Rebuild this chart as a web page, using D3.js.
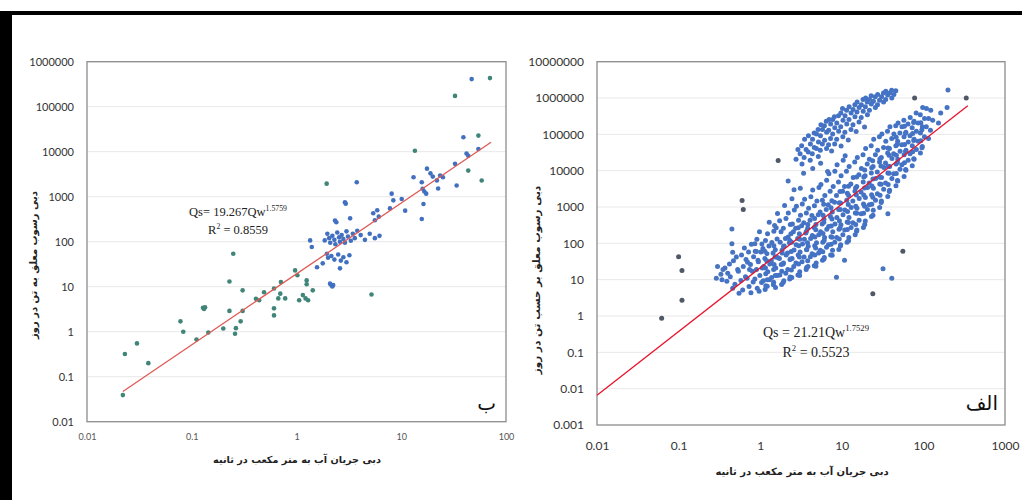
<!DOCTYPE html>
<html>
<head>
<meta charset="utf-8">
<script src="https://cdn.jsdelivr.net/npm/d3@7"></script>
<style>
  body { margin: 0; background: #fff; }
  svg { display: block; }
</style>
</head>
<body>
<div id="chart"></div>
<script>
//Tick values and their labels
var leftXTicks = [0.01, 0.1, 1, 10, 100];
var leftXLabels = ["0.01", "0.1", "1", "10", "100"];
var leftYTicks = [0.01, 0.1, 1, 10, 100, 1000, 10000, 100000, 1000000];
var leftYLabels = ["0.01", "0.1", "1", "10", "100", "1000", "10000", "100000", "1000000"];
var rightXTicks = [0.01, 0.1, 1, 10, 100, 1000];
var rightXLabels = ["0.01", "0.1", "1", "10", "100", "1000"];
var rightYTicks = [0.001, 0.01, 0.1, 1, 10, 100, 1000, 10000, 100000, 1000000, 10000000];
var rightYLabels = ["0.001", "0.01", "0.1", "1", "10", "100", "1000", "10000", "100000", "1000000", "10000000"];

//Axis titles (persian)
var xTitle = "دبی جریان آب به متر مکعب در ثانیه";
var leftYTitle = "دبی رسوب معلق به تن در روز";
var rightYTitle = "دبی رسوب معلق بر حسب تن در روز";

//Trendlines Qs = a * Qw^b  [a, b, first Qw, last Qw]
var leftFit = [19.267, 1.5759, 0.022, 72];
var rightFit = [21.21, 1.7529, 0.01, 350];

//Panel "ب" : [Qw, Qs]
var leftTeal = [[0.022,0.039],[0.023,0.32],[0.030,0.55],[0.0385,0.20],[0.078,1.7],[0.083,1.0],[0.111,0.67],
  [0.128,3.4],[0.131,3.2],[0.134,3.5],[0.144,0.96],[0.20,1.18],[0.229,13],[0.229,2.9],[0.249,54],[0.259,0.9],
  [0.264,1.2],[0.293,1.7],[0.306,2.9],[0.306,8.3],[0.41,5.4],[0.44,5.0],[0.49,7.5],[0.61,9.1],[0.61,3.3],
  [0.61,2.3],[0.67,5.5],[0.71,12.7],[0.70,7],[0.78,5.5],[0.97,23],[1.02,18],[1.06,5.0],[1.15,6.5],[1.22,5.5],
  [1.29,5.0],[1.25,13.8],[1.25,11.3],[1.43,8.3],[5.2,6.7],[1.94,1950],[13.5,10500],[32.6,174000],[70.3,432000],
  [58.6,2290],[43.6,3800],[54.5,22800]];
var leftBlue = [[1.35,107],[1.40,76],[1.57,27],[1.78,33],[2.09,11.7],[2.16,10.7],[2.24,10.9],[2.2,10.1],
  [1.95,54],[2.0,44],[2.15,48],[2.3,40],[2.5,52],[2.65,38],[2.8,45],[3.0,35],[3.2,50],[2.6,25.6],
  [1.86,107],[1.97,150],[2.05,120],[2.1,95],[2.2,135],[2.3,110],[2.35,88],[2.45,160],[2.55,125],[2.6,100],
  [2.7,140],[2.8,115],[2.9,95],[3.0,170],[3.1,130],[3.3,105],[3.45,150],[3.6,120],[3.8,175],[4.1,140],
  [4.5,110],[5.0,150],[5.6,120],[6.2,135],[2.33,296],[2.4,270],[3.25,330],[2.9,755],[2.95,700],[5.4,430],
  [5.6,300],[5.9,500],[6.1,360],[3.76,2090],[8.1,1170],[8.4,830],[7.8,550],[10.1,890],[10.9,490],[13.1,2700],
  [15.7,2090],[16,1500],[16.6,1300],[17.3,1170],[16.3,690],[15.7,320],[17.6,4200],[19,3300],[20,2800],
  [21.9,2300],[23.5,2950],[25,2700],[22.5,1520],[33.8,1780],[32.6,5370],[39.2,20900],[42,9100],[43.6,8100],
  [54.5,11500],[47,411000]];

//Panel "الف" : [Qw, Qs]
var rightMain = [[0.34,10],[0.37,21],[0.39,9],[0.42,27],[0.40,15],[0.46,5.8],[0.43,12],[0.47,33],
  [0.49,7.5],[0.53,19],[0.51,42],[0.55,4.2],[0.58,9.5],[0.54,17],[0.59,48],
  [0.61,5.2],[0.66,12],[0.62,23],[0.67,36],[0.64,75],[0.73,6.5],[0.69,11],[0.74,19],[0.7,30],[0.72,58],
  [0.77,4.4],[0.82,8.7],[0.8,17],[0.76,26],[0.83,43],[0.78,95],[0.92,5.8],[0.86,10.5],[0.9,19],[0.94,34],[0.87,61],[0.91,130],
  [0.97,4.8],[1.04,8.3],[0.99,13],[1.06,21],[0.95,31],[1.02,58],[1.05,96],[0.98,210],
  [1.15,5.4],[1.09,9.4],[1.17,14.5],[1.1,23],[1.14,38],[1.08,72],[1.16,120],
  [1.22,6.6],[1.3,10],[1.24,16.5],[1.31,27],[1.21,52],[1.28,85],[1.23,185],[1.29,380],
  [1.45,7.3],[1.38,11.5],[1.46,19],[1.37,33],[1.44,54],[1.39,105],[1.47,215],
  [1.54,6.1],[1.62,13],[1.55,21],[1.64,41],[1.53,67],[1.61,132],[1.57,270],[1.63,660],
  [1.83,7.4],[1.74,13.5],[1.81,26],[1.72,38],[1.85,65],[1.76,108],[1.8,210],[1.73,420],
  [1.95,9.4],[2.06,15],[1.93,29],[2.08,48],[1.97,84],[2.04,135],[1.92,260],[2.07,480],[1.99,1100],
  [2.3,10.5],[2.18,19],[2.32,36],[2.16,54],[2.28,104],[2.2,150],[2.34,330],[2.21,680],
  [2.44,11.5],[2.58,23],[2.46,38],[2.6,66],[2.43,108],[2.55,210],[2.48,340],[2.62,830],
  [2.9,13.5],[2.74,29],[2.92,48],[2.76,92],[2.88,135],[2.72,260],[2.95,430],[2.78,1050],
  [3.05,16.5],[3.26,31],[3.08,58],[3.3,96],[3.02,185],[3.22,305],[3.12,590],[3.28,1220],
  [3.66,19],[3.45,42],[3.7,67],[3.48,130],[3.62,192],[3.42,370],[3.68,680],[3.5,1640],
  [3.85,23],[4.12,43],[3.88,83],[4.15,136],[3.82,260],[4.08,430],[3.92,920],[4.18,1920],
  [4.6,24],[4.32,52],[4.65,86],[4.35,165],[4.58,272],[4.3,580],[4.62,1080],[4.4,2920],
  [4.85,29],[5.2,54],[4.9,104],[5.22,172],[4.82,330],[5.15,610],[4.95,1460],[5.25,3420],
  [5.8,34],[5.45,65],[5.85,108],[5.5,207],[5.75,343],[5.42,725],[5.78,1530],[5.55,4150],
  [6.1,41],[6.5,78],[6.15,146],[6.55,243],[6.05,462],[6.45,860],[6.2,2070],[6.52,5430],
  [7.3,48],[6.85,92],[7.35,153],[6.9,292],[7.25,545],[6.82,1160],[7.2,2730],[6.95,8200],
  [7.7,65],[8.2,108],[7.75,207],[8.25,343],[7.65,725],[8.15,1360],[7.85,3670],[8.22,9700],
  [9.2,68],[8.65,146],[9.25,243],[8.7,515],[9.15,860],[8.6,2070],[9.1,4850],[8.75,14600],
  [9.7,92],[10.3,172],[9.75,327],[10.35,610],[9.65,1300],[10.25,2730],[9.8,7300],[10.4,19400],
  [11.6,108],[10.85,232],[11.65,387],[10.9,826],[11.5,1530],[10.8,3670],[11.4,9700],[11.0,25900],
  [12.2,146],[13.0,273],[12.25,515],[13.05,970],[12.15,2070],[12.9,4330],[12.3,13000],
  [14.6,172],[13.7,367],[14.65,680],[13.65,1460],[14.5,2730],[13.8,6500],[14.4,17300],
  [15.3,232],[16.3,433],[15.35,920],[16.35,1720],[15.25,3670],[16.2,7700],[15.5,23100],
  [18.4,273],[17.25,650],[18.45,1220],[17.2,2590],[18.3,4860],[17.4,11500],[18.2,27400],
  [19.4,413],[20.6,860],[19.45,1840],[20.7,3440],[19.3,7300],[20.5,15300],[19.6,41000],
  [23.1,545],[21.7,1160],[23.2,2170],[21.65,4600],[23.0,8640],[21.8,20600],[22.9,48600],
  [24.3,820],[25.9,1530],[24.4,3260],[26.0,6120],[24.2,13000],[25.8,27400],[24.6,73000],
  [29.1,970],[27.3,2310],[29.2,4330],[27.2,9190],[29.0,17300],[27.5,36600],[28.9,86400],
  [30.6,1460],[32.6,3060],[30.7,6500],[32.8,12200],[30.5,23100],[32.5,43300],[31.0,103000],
  [36.6,1940],[34.4,4610],[36.7,8640],[34.3,16300],[36.5,30600],[34.6,65000],[36.3,122000],
  [38.5,2910],[41.1,6120],[38.6,13000],[41.2,21700],[38.4,41000],[40.9,77000],[38.9,163000],
  [46.1,3860],[43.3,8190],[46.2,15300],[43.2,29100],[46.0,48600],[43.5,103000],[45.8,172000],
  [48.5,5170],[51.7,10900],[48.6,20600],[51.8,34400],[48.4,65000],[51.5,109000],[49.0,206000],
  [58.0,6870],[54.4,14500],[58.1,27400],[54.3,51600],[57.9,86400],[54.6,163000],[57.6,244000],
  [61.1,10300],[65.1,19400],[61.2,36600],[65.2,61200],[61.0,115000],[64.8,194000],
  [73.0,13700],[68.6,29100],[73.1,48600],[68.5,91800],[72.8,153000],[68.9,290000],
  [76.9,20600],[81.9,38600],[77.0,72900],[82.0,122000],[76.8,231000],[81.5,386000],
  [91.9,30600],[86.3,65000],[92.0,109000],[86.2,206000],[91.6,344000],
  [96.9,46100],[103,86400],[97,163000],[103.2,274000],[98,546000],
  [115.5,77000],[108.5,163000],[115.7,274000],[109,515000],[122,130000],[130,244000],[123,460000],
  [153,206000],[163,386000],[195,546000]];
var rightCore = [[1.17,6.8],[1.22,10],[1.16,21],[1.2,33],
  [1.46,8.5],[1.53,13],[1.48,26],[1.52,42],[1.47,86],
  [1.91,8.4],[1.84,17],[1.9,27],[1.86,54],[1.93,82],
  [2.33,11.8],[2.41,18.5],[2.35,37],[2.4,60],[2.31,120],[2.38,185],
  [3.04,13],[2.95,27],[3.02,42],[2.97,86],[3.05,130],[2.93,270],
  [3.7,21.5],[3.82,33],[3.72,68],[3.8,104],[3.69,215],[3.83,330],
  [4.81,23.5],[4.66,48],[4.78,75],[4.68,150],[4.8,235],[4.64,480],
  [6.05,37],[5.85,59],[6.08,120],[5.88,188],[6.02,380],[5.9,590],[6.0,1200],
  [7.62,47],[7.4,95],[7.6,148],[7.42,300],[7.58,470],[7.38,950],[7.55,1480],
  [9.6,84],[9.3,132],[9.55,268],[9.35,420],[9.58,850],[9.3,1320],[9.5,2680],
  [12.1,118],[11.7,240],[12.05,375],[11.75,750],[12.0,1180],[11.7,2380],[12.1,3750],
  [15.2,214],[14.8,330],[15.25,675],[14.85,1050],[15.1,2130],[14.75,3320],[15.2,6750],
  [19.1,330],[18.5,675],[19.05,1050],[18.55,2130],[19.0,3320],[18.6,6750],[19.1,10500],
  [24.1,590],[23.3,1200],[24.0,1870],[23.4,3780],[24.05,5900],[23.25,12000],[23.9,18700],
  [30.4,1340],[29.4,2100],[30.3,4250],[29.5,6630],[30.2,13400],[29.3,21000],
  [38.2,2680],[37.0,4180],[38.1,8480],[37.1,13200],[38.0,26800],[36.9,41800],
  [48.1,5350],[46.5,8350],[48.0,16900],[46.6,26400],[47.9,53500],[46.4,83500],
  [60.6,10700],[58.6,16600],[60.5,33800],[58.7,52600],[60.4,107000],[58.5,166000],
  [76.2,21300],[73.8,33200],[76.1,67400],[73.9,105000],[76.0,213000],
  [96,42500],[92.8,66300],[95.8,134000],[93,210000]];
var rightUpper = [[2.75,20500],[2.9,38600],[3.25,15300],[3.08,29100],[3.22,48600],[3.45,23100],[3.65,38600],[3.5,72900],
  [4.1,19400],[3.88,32600],[4.12,54500],[3.9,91800],[4.35,29100],[4.6,43300],[4.38,72900],[4.58,109000],
  [5.15,24400],[4.88,41000],[5.18,61200],[4.9,103000],[5.12,137000],[5.45,36600],[5.78,54500],[5.48,91800],[5.8,137000],[5.55,183000],
  [6.5,41000],[6.15,68700],[6.52,115000],[6.12,172000],[6.45,231000],[6.88,51600],[7.28,77000],[6.9,130000],[7.3,194000],[7.0,258000],
  [8.18,54500],[7.72,103000],[8.2,153000],[7.75,258000],[8.1,307000],[8.65,72900],[9.15,122000],[8.68,206000],[9.1,325000],
  [10.3,86400],[9.7,163000],[10.35,244000],[9.75,386000],[10.2,515000],[10.9,115000],[11.5,194000],[10.95,325000],[11.45,460000],
  [12.95,137000],[12.25,258000],[13.0,386000],[12.3,579000],[13.7,183000],[14.5,307000],[13.75,487000],[14.45,650000],
  [16.25,218000],[15.35,410000],[16.3,546000],[15.4,772000],[17.3,290000],[18.3,434000],[17.35,650000],[18.2,918000],
  [20.6,344000],[19.45,579000],[20.5,772000],[19.6,1000000],[21.8,460000],[23.0,688000],[21.85,918000],[22.9,1150000],
  [25.8,546000],[24.4,818000],[25.7,1090000],[27.4,650000],[29.0,866000],[27.5,1260000],[32.5,772000],[30.7,1090000],[32.4,1380000],
  [34.5,918000],[36.5,1220000],[34.6,1540000],[41.0,1000000],[38.7,1380000],[40.8,1630000],[43.5,1260000],[45.9,1580000]];
var rightSparse = [[0.29,11],[0.3,23],[0.33,14],[0.35,19],[0.45,250],[0.45,97],[0.46,57],[0.86,97],[0.9,60],[1.14,61],
  [1.5,310],[8.6,11.7],[10.8,34],[32,20],[41,11],[36.7,650],[2.2,5200],[2.6,3000],[3.4,8500],[4.4,11500],[5.5,16000],
  [6.7,9500],[7.5,35000],[9.8,48000],[12,70000],[15,120000],[19,160000],[200,1660000],[2.45,1700],[3.1,3300]];
var rightDark = [[0.062,0.87],[0.1,43],[0.11,18],[0.11,2.7],[0.6,1500],[0.62,850],[1.66,19000],[24,4.1],[56,61],
  [78,1000000],[335,1000000]];

//Setting width and height
var width = 1022, height = 500;

var svg = d3.select("#chart").append("svg").attr("width", width).attr("height", height);

//black frame of the figure
svg.append("rect").attr("x", 0).attr("y", 11).attr("width", width).attr("height", 4).attr("fill", "#000");
svg.append("rect").attr("x", 0).attr("y", 11).attr("width", 12).attr("height", height - 11).attr("fill", "#000");

//draws one panel
function drawPanel(p) {
  var g = svg.append("g");

  //gridlines
  g.selectAll(".grid").data(p.yTicks.slice(1)).enter().append("line")
    .attr("x1", p.x.range()[0]).attr("x2", p.x.range()[1])
    .attr("y1", function(d) { return p.y(d); }).attr("y2", function(d) { return p.y(d); })
    .attr("stroke", "#e8e8e8").attr("stroke-width", 1);

  //axes
  var gy = g.append("g").attr("transform", "translate(" + p.x.range()[0] + ",0)")
    .call(d3.axisLeft(p.y).tickValues(p.yTicks).tickFormat(function(d, i) { return p.yLabels[i]; })
      .tickSize(0).tickPadding(13));
  gy.select(".domain").remove();
  gy.selectAll("text").attr("font-family", "Lato").attr("font-size", p.yFont).attr("fill", "#333");

  var gx = g.append("g").attr("transform", "translate(0," + p.y.range()[0] + ")")
    .call(d3.axisBottom(p.x).tickValues(p.xTicks).tickFormat(function(d, i) { return p.xLabels[i]; })
      .tickSize(0).tickPadding(p.xPad));
  gx.select(".domain").remove();
  gx.selectAll("text").attr("font-family", "Lato").attr("font-size", p.xFont).attr("fill", p.xColor);

  //plot frame
  g.append("rect")
    .attr("x", p.x.range()[0]).attr("y", p.y.range()[1])
    .attr("width", p.x.range()[1] - p.x.range()[0]).attr("height", p.y.range()[0] - p.y.range()[1])
    .attr("fill", "none").attr("stroke", "#8c8c8c").attr("stroke-width", 1.3);

  //points
  p.series.forEach(function(s) {
    g.append("g").selectAll("circle").data(s.data).enter().append("circle")
      .attr("cx", function(d) { return p.x(d[0]); })
      .attr("cy", function(d) { return p.y(d[1]); })
      .attr("r", p.r)
      .attr("fill", s.color);
  });

  //trendline
  var f = p.fit;
  g.append("line")
    .attr("x1", p.x(f[2])).attr("y1", p.y(f[0] * Math.pow(f[2], f[1])))
    .attr("x2", p.x(f[3])).attr("y2", p.y(f[0] * Math.pow(f[3], f[1])))
    .attr("stroke", p.fitColor).attr("stroke-width", 1.3);

  //equation
  var eq = g.append("text").attr("x", p.eqX).attr("y", p.eqY).attr("text-anchor", "middle")
    .attr("font-family", "Liberation Serif").attr("font-size", p.eqFont).attr("fill", "#222");
  eq.append("tspan").text(p.eqText);
  eq.append("tspan").attr("dy", -p.eqFont * 0.4).attr("font-size", p.eqFont * 0.62).text(f[1].toString());
  var r2 = g.append("text").attr("x", p.eqX).attr("y", p.eqY + p.eqGap).attr("text-anchor", "middle")
    .attr("font-family", "Liberation Serif").attr("font-size", p.eqFont).attr("fill", "#222");
  r2.append("tspan").text("R");
  r2.append("tspan").attr("dy", -p.eqFont * 0.4).attr("font-size", p.eqFont * 0.62).text("2");
  r2.append("tspan").attr("dy", p.eqFont * 0.4).text(" = " + p.r2);

  //panel letter
  g.append("text").attr("x", p.letterX).attr("y", p.letterY).attr("text-anchor", "end")
    .attr("font-family", "DejaVu Sans").attr("font-size", p.letterFont).attr("fill", "#111")
    .text(p.letter);

  //axis titles
  g.append("text").attr("x", p.xTitleX).attr("y", p.xTitleY).attr("text-anchor", "middle")
    .attr("font-family", "DejaVu Sans").attr("font-weight", "bold").attr("font-size", p.xTitleFont)
    .attr("fill", "#222").text(xTitle);
  g.append("text").attr("transform", "translate(" + p.yTitleX + "," + p.yTitleY + ") rotate(-90)")
    .attr("text-anchor", "middle")
    .attr("font-family", "DejaVu Sans").attr("font-weight", "bold").attr("font-size", p.yTitleFont)
    .attr("fill", "#222").text(p.yTitle);
}

//left panel (ب)
drawPanel({
  x: d3.scaleLog().domain([0.01, 100]).range([87, 506]),
  y: d3.scaleLog().domain([0.01, 1000000]).range([421.7, 61.7]),
  xTicks: leftXTicks, xLabels: leftXLabels, yTicks: leftYTicks, yLabels: leftYLabels,
  yFont: 11, xFont: 9, xPad: 12, xColor: "#555",
  series: [{data: leftTeal, color: "#3f8578"}, {data: leftBlue, color: "#4270c0"}],
  r: 2.3,
  fit: leftFit, fitColor: "#df5a55",
  eqText: "Qs= 19.267Qw", r2: "0.8559", eqX: 238, eqY: 216, eqGap: 18, eqFont: 12.5,
  letter: "ب", letterX: 496, letterY: 410, letterFont: 20,
  xTitleX: 297, xTitleY: 463, xTitleFont: 9.7, yTitleFont: 10,
  yTitle: leftYTitle, yTitleX: 37, yTitleY: 265
});

//right panel (الف)
drawPanel({
  x: d3.scaleLog().domain([0.01, 1000]).range([597, 1005]),
  y: d3.scaleLog().domain([0.001, 10000000]).range([425, 61.7]),
  xTicks: rightXTicks, xLabels: rightXLabels, yTicks: rightYTicks, yLabels: rightYLabels,
  yFont: 12, xFont: 12, xPad: 16, xColor: "#333",
  series: [{data: rightMain, color: "#4472c4"}, {data: rightCore, color: "#4472c4"},
           {data: rightUpper, color: "#4472c4"}, {data: rightSparse, color: "#4a74bd"},
           {data: rightDark, color: "#4f5866"}],
  r: 2.5,
  fit: rightFit, fitColor: "#e8142e",
  eqText: "Qs = 21.21Qw", r2: "0.5523", eqX: 816, eqY: 337, eqGap: 20, eqFont: 14,
  letter: "الف", letterX: 998, letterY: 410, letterFont: 20,
  xTitleX: 802, xTitleY: 475, xTitleFont: 10, yTitleFont: 10.5,
  yTitle: rightYTitle, yTitleX: 540, yTitleY: 280
});
</script>
</body>
</html>
